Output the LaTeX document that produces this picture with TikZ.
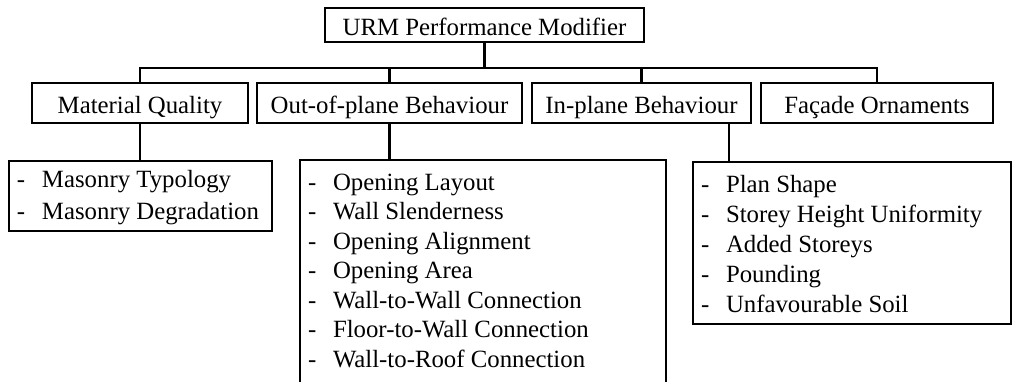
\documentclass[tikz,border=0pt]{standalone}
\usepackage{fontspec}
\setmainfont{Liberation Serif}
\newcommand{\dashitem}[1]{\makebox[33pt][l]{\hspace*{8pt}-}#1}
\begin{document}
\begin{tikzpicture}[x=1pt,y=-1pt,
  box/.style={draw, line width=2.2pt, inner sep=0pt, outer sep=0pt,
    font=\fontsize{24.8}{30}\selectfont, text height=22pt, text depth=2pt},
  listbox/.style={draw, line width=2.2pt, inner sep=0pt, outer sep=0pt, anchor=north west},
  conn/.style={line width=2.2pt}]
\useasboundingbox (0,0) rectangle (1013,381);
\clip (0,0) rectangle (1013,381);
% top
\node[box, minimum width=319pt, minimum height=34pt] (root) at (484.5,25) {URM Performance Modifier};
% second row
\node[box, minimum width=216pt, minimum height=40pt] (mq) at (140,103) {Material Quality};
\node[box, minimum width=265pt, minimum height=40pt] (op) at (389.5,103) {Out-of-plane Behaviour};
\node[box, minimum width=219pt, minimum height=40pt] (ip) at (641.5,103) {In-plane Behaviour};
\node[box, minimum width=232pt, minimum height=40pt] (fo) at (877,103) {Façade Ornaments};
% lists
\node[listbox] (mql) at (9,161) {\parbox[c][70pt][t]{263pt}{\fontsize{24.8}{32}\selectfont\vspace*{3.6pt}\strut\dashitem{Masonry Typology}\\\dashitem{Masonry Degradation}}};
\node[listbox] (opl) at (300,160) {\parbox[c][300pt][t]{366pt}{\fontsize{24.8}{29.5}\selectfont\vspace*{9.4pt}\strut\dashitem{Opening Layout}\\\dashitem{Wall Slenderness}\\\dashitem{Opening Alignment}\\\dashitem{Opening Area}\\\dashitem{Wall-to-Wall Connection}\\\dashitem{Floor-to-Wall Connection}\\\dashitem{Wall-to-Roof Connection}}};
\node[listbox] (ipl) at (693,162) {\parbox[c][162pt][t]{318pt}{\fontsize{24.8}{30}\selectfont\vspace*{9pt}\strut\dashitem{Plan Shape}\\\dashitem{Storey Height Uniformity}\\\dashitem{Added Storeys}\\\dashitem{Pounding}\\\dashitem{Unfavourable Soil}}};
% connectors
\draw[conn] (root.south) -- ++(0,26) coordinate (bus);
\draw[conn] (mq.north) |- (bus);
\draw[conn] (op.north) |- (bus);
\draw[conn] (ip.north) |- (bus);
\draw[conn] (fo.north) |- (bus);
\draw[conn] (mq.south) -- (mq.south |- mql.north);
\draw[conn] (op.south) -- (op.south |- opl.north);
\coordinate (ipd) at ([xshift=-22pt]ip.south east);
\draw[conn] (ipd) -- (ipd |- ipl.north);
\end{tikzpicture}
\end{document}
